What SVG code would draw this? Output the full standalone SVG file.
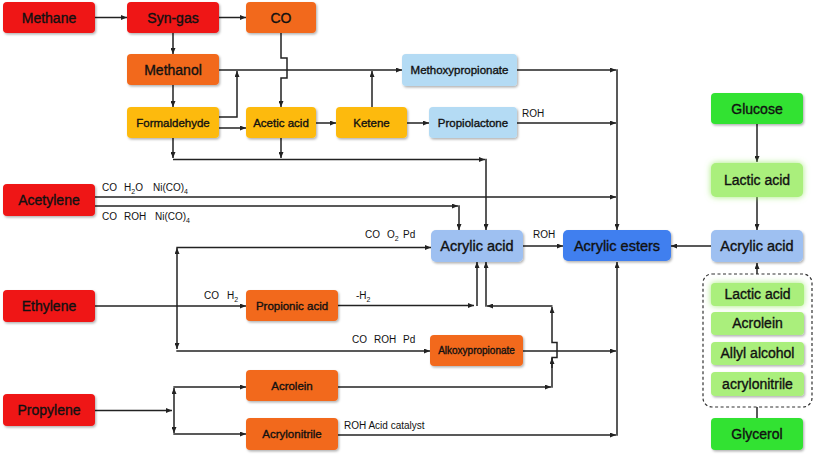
<svg xmlns="http://www.w3.org/2000/svg" width="817" height="459" viewBox="0 0 817 459">
<defs>
<filter id="sh" x="-10%" y="-20%" width="130%" height="150%"><feDropShadow dx="1.2" dy="1.5" stdDeviation="1" flood-color="#000" flood-opacity="0.3"/></filter>
<filter id="glow" x="-20%" y="-40%" width="140%" height="180%"><feDropShadow dx="0" dy="0" stdDeviation="3" flood-color="#9BE86A" flood-opacity="0.9"/></filter>
<marker id="a" markerWidth="6" markerHeight="5" refX="6" refY="2.5" orient="auto" markerUnits="userSpaceOnUse"><path d="M0,0 L6,2.5 L0,5 z" fill="#222"/></marker>
</defs>
<style>
rect.n{filter:url(#sh)}
.red{fill:#EF1515}
.org{fill:#F2691C}
.yel{fill:#FDBA0C}
.lb{fill:#B4DBF4}
.ab{fill:#9EC0F1}
.db{fill:#3F7FEF}
.gr{fill:#33E233}
.lg{fill:#AAEF7C}
text{font-family:"Liberation Sans",Arial,sans-serif;fill:#111}
.t14,.t11,.t10{text-anchor:middle;stroke:#111;stroke-width:0.35}
.t14{font-size:14px}
.t11{font-size:11.5px}
.t10{font-size:10px}
.lab{font-size:10px}
.sub{font-size:7px}
#conn path{fill:none;stroke:#222;stroke-width:1.5}
#conn path.m{marker-end:url(#a)}
</style>

<g id="conn">
<path class="m" d="M95,17.5 H127"/>
<path class="m" d="M219,17.5 H246"/>
<path class="m" d="M173,33 V54"/>
<path class="m" d="M173,85 V107"/>
<path class="m" d="M281,33 V58 H287 V78 H281 V107"/>
<path class="m" d="M219,70 H402"/>
<path class="m" d="M219,117 H237 V71"/>
<path class="m" d="M219,128 H246"/>
<path class="m" d="M372,107 V71"/>
<path class="m" d="M316,123 H336"/>
<path class="m" d="M407,123 H429"/>
<path class="m" d="M517,70 H616"/>
<path class="m" d="M617,69.3 V230"/>
<path class="m" d="M517,123 H616"/>
<path class="m" d="M173,138 V158"/>
<path class="m" d="M281,138 V158"/>
<path class="m" d="M173,159.5 H485"/>
<path class="m" d="M486,158.8 V230"/>
<path class="m" d="M95,197 H616"/>
<path class="m" d="M95,206 H458"/>
<path class="m" d="M459,205.3 V230"/>
<path class="m" d="M95,306 H246"/>
<path class="m" d="M177,306 V248"/>
<path class="m" d="M177,306 V349"/>
<path class="m" d="M176.3,247.5 H431"/>
<path class="m" d="M176.3,351 H430"/>
<path class="m" d="M338,305.5 H474"/>
<path class="m" d="M477,306 V262"/>
<path class="m" d="M552.5,306 H487"/>
<path class="m" d="M486,306.8 V262"/>
<path class="m" d="M552,387.8 V357.5 H557 V342.5 H552 V307"/>
<path class="m" d="M552,368 V358"/>
<path class="m" d="M338,387 H551"/>
<path class="m" d="M523,351 H616"/>
<path class="m" d="M617,435.8 V262"/>
<path class="m" d="M338,435 H616"/>
<path class="m" d="M95,410.5 H172"/>
<path class="m" d="M174,410 V388"/>
<path class="m" d="M174,410 V433"/>
<path class="m" d="M173.3,387 H246"/>
<path class="m" d="M173.3,434 H246"/>
<path class="m" d="M523,246 H563"/>
<path class="m" d="M711,246 H671"/>
<path class="m" d="M757,124 V162"/>
<path class="m" d="M757,197 V230"/>
<path class="m" d="M757,274 V263"/>
<path d="M757,407 V418"/>
</g>

<g id="labels">
<text class="lab" x="522" y="117">ROH</text>
<text class="lab" x="102" y="191">CO</text>
<text class="lab" x="124" y="191">H<tspan class="sub" dy="3">2</tspan><tspan dy="-3">O</tspan></text>
<text class="lab" x="153" y="191">Ni(CO)<tspan class="sub" dy="3">4</tspan></text>
<text class="lab" x="102" y="220">CO</text>
<text class="lab" x="124" y="220">ROH</text>
<text class="lab" x="155" y="220">Ni(CO)<tspan class="sub" dy="3">4</tspan></text>
<text class="lab" x="365" y="238">CO</text>
<text class="lab" x="387" y="238">O<tspan class="sub" dy="3">2</tspan></text>
<text class="lab" x="403" y="238">Pd</text>
<text class="lab" x="533" y="238">ROH</text>
<text class="lab" x="204" y="299">CO</text>
<text class="lab" x="227" y="299">H<tspan class="sub" dy="3">2</tspan></text>
<text class="lab" x="356" y="299">-H<tspan class="sub" dy="3">2</tspan></text>
<text class="lab" x="352" y="343">CO</text>
<text class="lab" x="374" y="343">ROH</text>
<text class="lab" x="403" y="343">Pd</text>
<text class="lab" x="344" y="429">ROH Acid catalyst</text>
</g>

<g id="methane"><rect class="n red" x="3" y="2" width="92" height="31" rx="4"/><text class="t14" x="49" y="22.5">Methane</text></g>
<g id="syngas"><rect class="n red" x="127" y="2" width="92" height="31" rx="4"/><text class="t14" x="173" y="22.5">Syn-gas</text></g>
<g id="co"><rect class="n org" x="246" y="2" width="70" height="31" rx="4"/><text class="t14" x="281" y="22.5">CO</text></g>
<g id="methanol"><rect class="n org" x="127" y="54" width="92" height="31" rx="4"/><text class="t14" x="173" y="74.5">Methanol</text></g>
<g id="formaldehyde"><rect class="n yel" x="127" y="107" width="92" height="31" rx="4"/><text class="t11" x="173" y="126.5">Formaldehyde</text></g>
<g id="aceticacid"><rect class="n yel" x="246" y="107" width="70" height="31" rx="4"/><text class="t11" x="281" y="126.5">Acetic acid</text></g>
<g id="ketene"><rect class="n yel" x="336" y="107" width="71" height="31" rx="4"/><text class="t11" x="371.5" y="126.5">Ketene</text></g>
<g id="propiolactone"><rect class="n lb" x="429" y="107" width="88" height="31" rx="4"/><text class="t11" x="473" y="126.5">Propiolactone</text></g>
<g id="methoxypropionate"><rect class="n lb" x="402" y="54" width="115" height="32" rx="4"/><text class="t11" x="459.5" y="74">Methoxypropionate</text></g>
<g id="acetylene"><rect class="n red" x="3" y="184" width="92" height="32" rx="4"/><text class="t14" x="49" y="205">Acetylene</text></g>
<g id="ethylene"><rect class="n red" x="3" y="290" width="92" height="32" rx="4"/><text class="t14" x="49" y="311">Ethylene</text></g>
<g id="propylene"><rect class="n red" x="3" y="394" width="92" height="32" rx="4"/><text class="t14" x="49" y="415">Propylene</text></g>
<g id="acrylicacid"><rect class="n ab" x="431" y="230" width="92" height="32" rx="5"/><text class="t14" x="477" y="251" style="font-size:14.5px">Acrylic acid</text></g>
<g id="acrylicesters"><rect class="n db" x="563" y="230" width="108" height="31" rx="5"/><text class="t14" x="617" y="250.5" style="font-size:14.5px">Acrylic esters</text></g>
<g id="propionicacid"><rect class="n org" x="246" y="290" width="92" height="31" rx="4"/><text class="t11" x="292" y="309.5">Propionic acid</text></g>
<g id="alkoxypropionate"><rect class="n org" x="430" y="335" width="93" height="31" rx="4"/><text class="t10" x="476.5" y="354">Alkoxypropionate</text></g>
<g id="acrolein"><rect class="n org" x="246" y="370" width="92" height="31" rx="4"/><text class="t11" x="292" y="389.5">Acrolein</text></g>
<g id="acrylonitrile"><rect class="n org" x="246" y="418" width="92" height="32" rx="4"/><text class="t11" x="292" y="438">Acrylonitrile</text></g>
<g id="glucose"><rect class="n gr" x="711" y="93" width="92" height="31" rx="4"/><text class="t14" x="757" y="113.5">Glucose</text></g>
<g id="lacticacid1"><rect class="lg" x="711" y="163" width="92" height="34" rx="5" filter="url(#glow)"/><text class="t14" x="757" y="185">Lactic acid</text></g>
<g id="acrylicacid2"><rect class="n ab" x="711" y="230" width="92" height="32" rx="5"/><text class="t14" x="757" y="251" style="font-size:14.5px">Acrylic acid</text></g>
<g id="glycerolsources">
<rect x="703" y="274" width="109" height="133" rx="9" fill="none" stroke="#333" stroke-width="1.2" stroke-dasharray="3,2.5"/>
<g id="lacticacid2"><rect class="lg" x="711" y="283" width="93" height="23" rx="4" filter="url(#glow)"/><text class="t14" x="757.5" y="299">Lactic acid</text></g>
<g id="acrolein2"><rect class="n lg" x="711" y="312" width="93" height="23" rx="4"/><text class="t14" x="757.5" y="328">Acrolein</text></g>
<g id="allylalcohol"><rect class="n lg" x="711" y="342" width="93" height="23" rx="4"/><text class="t14" x="757.5" y="358">Allyl alcohol</text></g>
<g id="acrylonitrile2"><rect class="n lg" x="711" y="372" width="93" height="24" rx="4"/><text class="t14" x="757.5" y="388.5">acrylonitrile</text></g>
</g>
<g id="glycerol"><rect class="n gr" x="711" y="418" width="92" height="32" rx="4"/><text class="t14" x="757" y="439">Glycerol</text></g>
</svg>
